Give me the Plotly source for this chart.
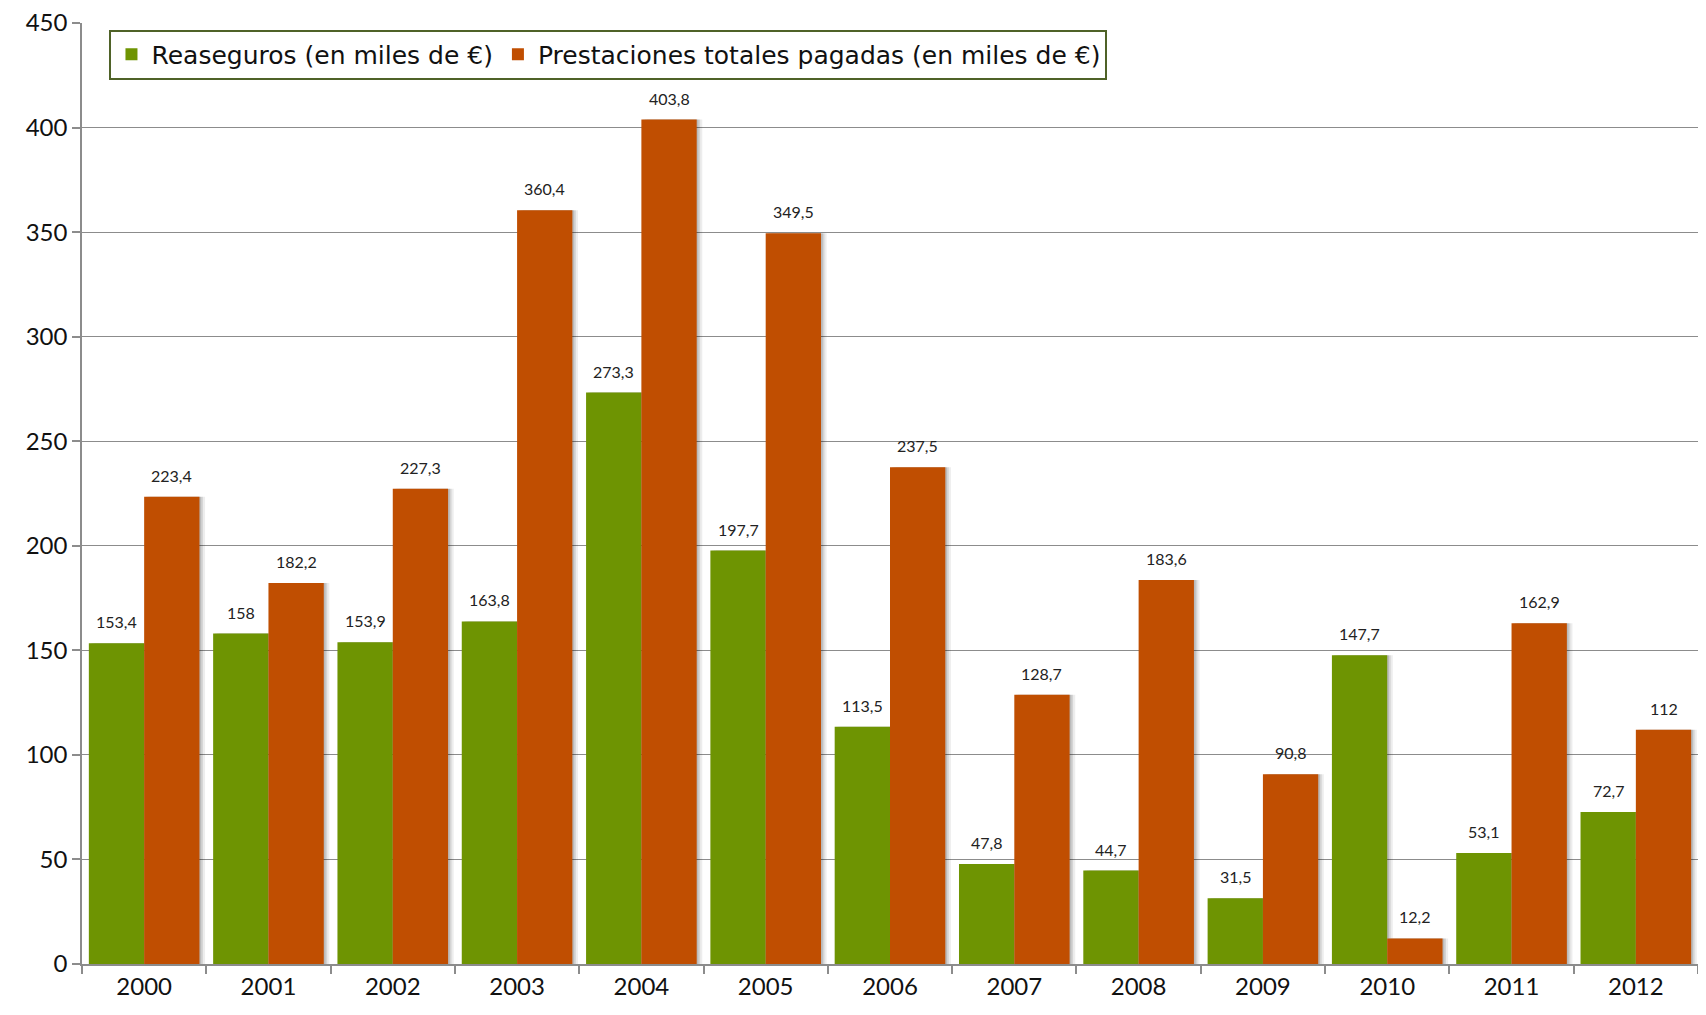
import plotly.graph_objects as go

years = ["2000", "2001", "2002", "2003", "2004", "2005", "2006",
         "2007", "2008", "2009", "2010", "2011", "2012"]
reaseguros = [153.4, 158, 153.9, 163.8, 273.3, 197.7, 113.5,
              47.8, 44.7, 31.5, 147.7, 53.1, 72.7]
prestaciones = [223.4, 182.2, 227.3, 360.4, 403.8, 349.5, 237.5,
                128.7, 183.6, 90.8, 12.2, 162.9, 112]
y_ticks = [0, 50, 100, 150, 200, 250, 300, 350, 400, 450]

name_rea = "Reaseguros (en miles de €)"
name_pre = "Prestaciones totales pagadas (en miles de €)"

GREEN = "#6E9402"
ORANGE = "#C04E01"
FONT = "Lato"

def fmt(v):
    return f"{v:g}".replace(".", ",")

FIG_W, FIG_H = 1690, 999
M_L, M_R, M_T, M_B = 74, 0, 15, 43
W = 0.445

fig = go.Figure()

# soft shadows
for dx, op in [(0.045, 0.07), (0.028, 0.10), (0.014, 0.12)]:
    for vals, off in [(reaseguros, -W), (prestaciones, 0.0)]:
        fig.add_trace(go.Bar(
            x=years, y=vals, width=W, offset=off + dx,
            marker=dict(color=f"rgba(0,0,0,{op})", line=dict(width=0)),
            showlegend=False, hoverinfo="skip"))

fig.add_trace(go.Bar(
    x=years, y=reaseguros, name=name_rea, width=W, offset=-W,
    marker=dict(color=GREEN, line=dict(width=0))))
fig.add_trace(go.Bar(
    x=years, y=prestaciones, name=name_pre, width=W, offset=0.0,
    marker=dict(color=ORANGE, line=dict(width=0))))

# data labels placed at the bar centres (category index +/- half bar width)
annotations = []
for vals, sign in [(reaseguros, -1), (prestaciones, 1)]:
    for i, v in enumerate(vals):
        annotations.append(dict(
            x=i + sign * W / 2, y=v, xref="x", yref="y", text=fmt(v),
            showarrow=False, yshift=10, yanchor="bottom", xanchor="center",
            font=dict(size=16, color="#222222", family=FONT)))

fig.update_layout(
    width=FIG_W, height=FIG_H,
    margin=dict(l=M_L, r=M_R, t=M_T, b=M_B),
    barmode="overlay",
    plot_bgcolor="white", paper_bgcolor="white",
    font=dict(family=FONT, size=24, color="#111111"),
    annotations=annotations,
    legend=dict(
        orientation="h", x=0.017, y=0.993, xanchor="left", yanchor="top",
        bgcolor="white", bordercolor="#4F6228", borderwidth=2,
        font=dict(size=25, family="DejaVu Sans", color="#111111"),
        itemsizing="constant", traceorder="normal",
    ),
    xaxis=dict(
        type="category", categoryorder="array", categoryarray=years,
        range=[-0.5, len(years) - 0.5],
        showgrid=False, automargin=False,
        showline=True, linecolor="#8C8C8C", linewidth=1.5,
        ticks="outside", tickson="boundaries", ticklen=8,
        tickcolor="#8C8C8C", tickwidth=1.5,
        tickfont=dict(size=24, family=FONT, color="#111111"),
    ),
    yaxis=dict(
        range=[0, 450], tickvals=y_ticks, automargin=False,
        ticklabeloverflow="allow",
        showgrid=True, gridcolor="#8C8C8C", gridwidth=1.3,
        showline=True, linecolor="#8C8C8C", linewidth=1.5,
        ticks="outside", ticklen=8, tickcolor="#8C8C8C", tickwidth=1.5,
        tickfont=dict(size=24, family=FONT, color="#111111"),
        zeroline=False,
    ),
)

fig.write_html("out.html")
